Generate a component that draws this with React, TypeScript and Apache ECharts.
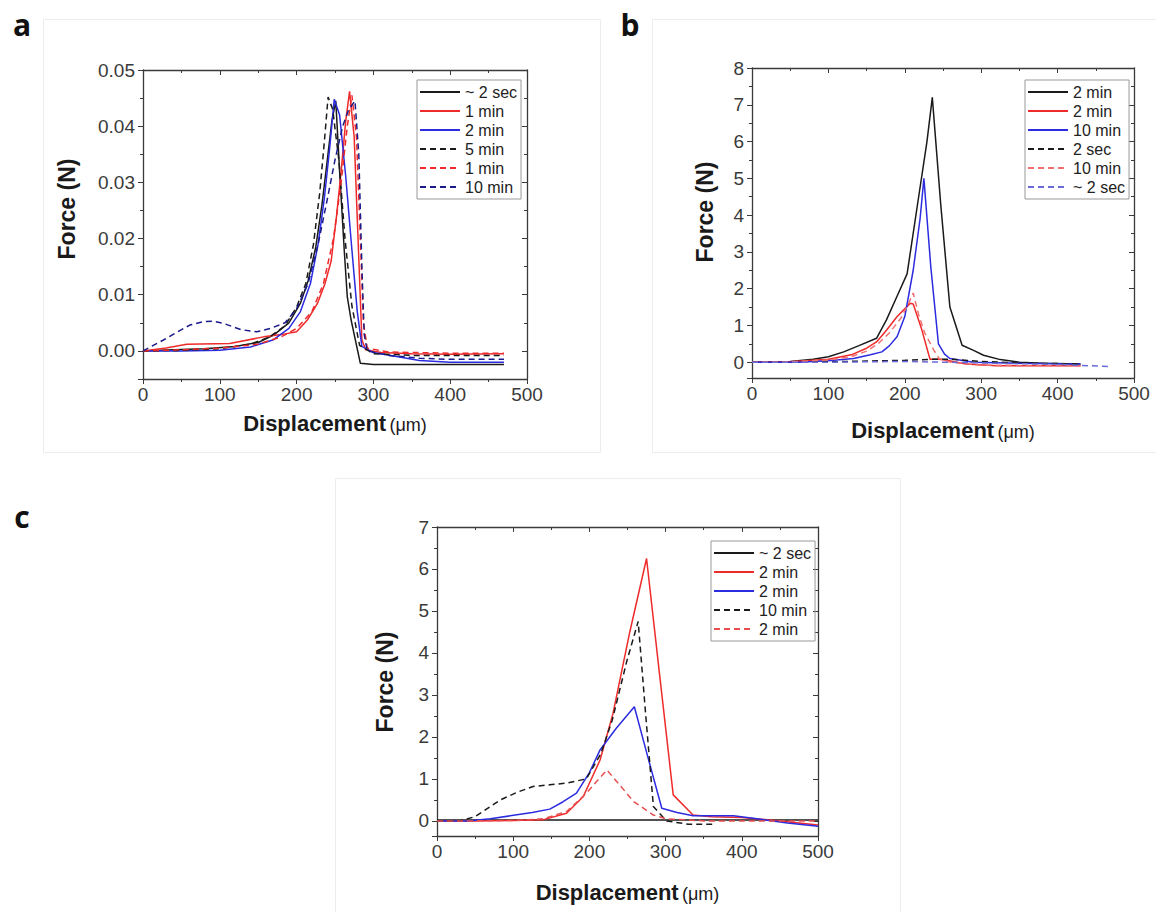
import React, { useEffect, useRef } from "react";
import * as echarts from "echarts";

type Pt = [number, number];

// ---------- Panel a (Force in N, displacement in µm) ----------
const a_2sec: Pt[] = [[0,0],[40,0.0002],[80,0.0004],[120,0.0008],[150,0.0015],[170,0.0028],[190,0.005],[205,0.0085],[215,0.0125],[225,0.0185],[233,0.026],[240,0.034],[246,0.041],[251,0.0445],[256,0.032],[262,0.018],[266,0.0096],[271,0.0055],[278,0.001],[283,-0.0022],[300,-0.0024],[400,-0.0024],[470,-0.0024]];
const a_1min: Pt[] = [[0,0],[30,0.0005],[57,0.0012],[113,0.0013],[157,0.0025],[180,0.0029],[200,0.0034],[214,0.0055],[227,0.0084],[237,0.012],[245,0.016],[252,0.024],[258,0.032],[264,0.041],[269,0.0462],[275,0.038],[280,0.02],[285,0.002],[290,0.0002],[310,-0.0003],[350,-0.0005],[400,-0.0006],[470,-0.0005]];
const a_2min: Pt[] = [[0,0],[50,0],[100,0.0001],[140,0.0007],[170,0.002],[190,0.004],[205,0.007],[218,0.012],[228,0.019],[236,0.027],[243,0.036],[249,0.0448],[256,0.042],[264,0.031],[272,0.018],[279,0.007],[285,0.0008],[300,-0.0003],[330,-0.001],[360,-0.0017],[400,-0.002],[470,-0.002]];
const a_5min: Pt[] = [[0,0],[50,0.0001],[100,0.0004],[140,0.0012],[165,0.0025],[185,0.0045],[200,0.0078],[212,0.012],[222,0.019],[230,0.028],[236,0.037],[241,0.0452],[247,0.043],[255,0.034],[263,0.02],[272,0.008],[282,0.001],[300,-0.0005],[350,-0.0008],[400,-0.0008],[470,-0.0008]];
const a_1minB: Pt[] = [[0,0],[50,0.0002],[100,0.0005],[150,0.0012],[180,0.0025],[200,0.004],[220,0.007],[235,0.012],[248,0.02],[258,0.03],[266,0.04],[272,0.0455],[278,0.038],[283,0.02],[287,0.005],[292,0.0005],[320,-0.0002],[400,-0.0004],[470,-0.0004]];
const a_10min: Pt[] = [[0,0],[26,0.0019],[45,0.0034],[61,0.0046],[78,0.0052],[90,0.0053],[105,0.0049],[127,0.0038],[148,0.0034],[166,0.004],[185,0.005],[200,0.0075],[215,0.012],[228,0.019],[240,0.027],[250,0.034],[260,0.04],[268,0.043],[276,0.0445],[281,0.035],[285,0.015],[288,0.003],[292,0],[320,-0.0008],[360,-0.0013],[400,-0.0015],[470,-0.0015]];

// ---------- Panel b ----------
const b_2minK: Pt[] = [[0,0],[50,0.02],[80,0.08],[100,0.15],[120,0.28],[140,0.45],[163,0.65],[176,1.15],[190,1.8],[203,2.4],[216,4.2],[229,6.0],[236,7.2],[247,4.3],[259,1.5],[275,0.46],[290,0.32],[303,0.19],[325,0.07],[350,0],[380,-0.03],[430,-0.05]];
const b_2minR: Pt[] = [[0,0],[50,0.01],[100,0.08],[130,0.2],[150,0.38],[163,0.55],[176,0.87],[190,1.24],[207,1.6],[211,1.58],[222,0.9],[233,0.08],[245,0.08],[255,0.05],[280,-0.05],[320,-0.1],[380,-0.1],[430,-0.1]];
const b_10min: Pt[] = [[0,0],[60,0],[100,0.04],[133,0.1],[155,0.2],[170,0.28],[180,0.45],[190,0.7],[200,1.24],[211,2.5],[220,3.9],[225,5.0],[234,2.6],[244,0.5],[252,0.22],[259,0.1],[290,0],[350,-0.03],[430,-0.05]];
const b_2sec: Pt[] = [[0,0],[100,0.01],[150,0.03],[200,0.05],[240,0.08],[260,0.08],[300,0.02],[350,-0.02],[430,-0.05]];
const b_10minR: Pt[] = [[0,0],[50,0.01],[100,0.06],[130,0.15],[150,0.3],[165,0.5],[180,0.8],[195,1.2],[205,1.6],[211,1.88],[218,1.3],[226,0.8],[238,0.33],[245,0.1],[260,0],[300,-0.08],[430,-0.1]];
const b_2secB: Pt[] = [[0,0],[100,0],[200,0.02],[300,-0.02],[400,-0.06],[470,-0.12]];

// ---------- Panel c ----------
const c_2sec: Pt[] = [[0,0.02],[100,0.02],[200,0.02],[300,0.02],[400,0.02],[500,0.02]];
const c_2minR: Pt[] = [[0,0],[50,0],[100,0.01],[140,0.03],[170,0.18],[192,0.58],[214,1.45],[231,2.56],[253,4.5],[275,6.25],[292,3.5],[310,0.62],[336,0.14],[360,0.1],[400,0.08],[450,0],[500,-0.1]];
const c_2minB: Pt[] = [[0,0],[40,0],[70,0.05],[96,0.12],[125,0.2],[148,0.28],[165,0.45],[183,0.66],[200,1.15],[214,1.69],[235,2.2],[259,2.72],[277,1.5],[295,0.3],[315,0.2],[336,0.12],[389,0.12],[420,0.05],[460,-0.05],[500,-0.13]];
const c_10min: Pt[] = [[0,0],[30,0],[50,0.1],[83,0.5],[105,0.68],[126,0.82],[148,0.86],[170,0.9],[196,1.0],[215,1.6],[230,2.4],[249,3.8],[264,4.75],[274,2.5],[284,0.34],[301,0],[330,-0.08],[363,-0.08]];
const c_2minRD: Pt[] = [[0,0],[50,0],[100,0.01],[140,0.05],[170,0.22],[196,0.66],[210,0.95],[223,1.21],[240,0.85],[258,0.46],[284,0.14],[300,0.05],[350,0],[400,0],[500,0]];

const legendA = ["~ 2 sec", "1 min", "2 min", "5 min", "1 min", "10 min"];
const legendB = ["2 min", "2 min", "10 min", "2 sec", "10 min", "~ 2 sec"];
const legendC = ["~ 2 sec", "2 min", "2 min", "10 min", "2 min"];

const BLACK = "#1a1a1a";
const RED = "#ee2a2a";
const BLUE = "#2b2be0";
const AX = "#3a3a3a";
const FONT = "'Liberation Sans', Arial, sans-serif";

export default function App() {
  const ref = useRef<HTMLDivElement>(null);
  useEffect(() => {
    if (!ref.current) return;
    const chart = echarts.init(ref.current, undefined, { renderer: "svg" });

    const labelMap: Record<string, string> = {};
    const mk = (id: string, label: string, data: Pt[], color: string, dashed: boolean, idx: number) => {
      labelMap[id] = label;
      return {
        name: id,
        type: "line",
        data,
        xAxisIndex: idx * 2,
        yAxisIndex: idx * 2,
        symbol: "none",
        showSymbol: false,
        silent: true,
        lineStyle: { color, width: 1.5, type: dashed ? [6, 4] : "solid" },
        itemStyle: { color },
      };
    };

    const series = [
      mk("a1", legendA[0], a_2sec, BLACK, false, 0),
      mk("a2", legendA[1], a_1min, RED, false, 0),
      mk("a3", legendA[2], a_2min, BLUE, false, 0),
      mk("a4", legendA[3], a_5min, BLACK, true, 0),
      mk("a5", legendA[4], a_1minB, RED, true, 0),
      mk("a6", legendA[5], a_10min, "#1a1a8a", true, 0),
      mk("b1", legendB[0], b_2minK, BLACK, false, 1),
      mk("b2", legendB[1], b_2minR, RED, false, 1),
      mk("b3", legendB[2], b_10min, BLUE, false, 1),
      mk("b4", legendB[3], b_2sec, BLACK, true, 1),
      mk("b5", legendB[4], b_10minR, "#f07070", true, 1),
      mk("b6", legendB[5], b_2secB, "#6a6ad8", true, 1),
      mk("c1", legendC[0], c_2sec, BLACK, false, 2),
      mk("c2", legendC[1], c_2minR, RED, false, 2),
      mk("c3", legendC[2], c_2minB, BLUE, false, 2),
      mk("c4", legendC[3], c_10min, BLACK, true, 2),
      mk("c5", legendC[4], c_2minRD, "#e85050", true, 2),
    ];

    const grids = [
      { left: 143, top: 70, width: 384, height: 309 },
      { left: 752, top: 68, width: 382, height: 310 },
      { left: 437, top: 527, width: 381, height: 309 },
    ];
    const nameGaps = [33, 41, 45];
    const yRanges = [
      { min: -0.005, max: 0.05, splitNumber: 5, fmt: (v: number) => v.toFixed(2) },
      { min: -0.43, max: 8, splitNumber: 8, fmt: (v: number) => String(Math.round(v)) },
      { min: -0.36, max: 7, splitNumber: 7, fmt: (v: number) => String(Math.round(v)) },
    ];

    const line = { show: true, onZero: false, lineStyle: { color: AX, width: 1.3 } };
    const xAxis: any[] = [];
    const yAxis: any[] = [];
    grids.forEach((g, i) => {
      xAxis.push({
        type: "value", gridIndex: i, position: "bottom", min: 0, max: 500, interval: 100,
        axisLine: line,
        axisTick: { show: true, inside: false, length: 5, lineStyle: { color: AX } },
        minorTick: { show: true, splitNumber: 2, length: 3, lineStyle: { color: AX } },
        splitLine: { show: false },
        axisLabel: { fontSize: 19, color: "#3a3a3a", fontFamily: FONT, margin: 6 },
        name: "{b|Displacement} {u|(\u03bcm)}",
        nameLocation: "middle",
        nameGap: nameGaps[i],
        nameTextStyle: {
          rich: {
            b: { fontSize: 22, fontWeight: "bold", fontFamily: FONT, color: "#1a1a1a" },
            u: { fontSize: 18, fontFamily: FONT, color: "#1a1a1a", padding: [3, 0, 0, 0] },
          },
        },
      });
      xAxis.push({
        type: "value", gridIndex: i, position: "top", min: 0, max: 500, interval: 100,
        axisLine: line,
        axisTick: { show: true, inside: true, length: 5, lineStyle: { color: AX } },
        minorTick: { show: true, splitNumber: 2, length: 3, lineStyle: { color: AX } },
        splitLine: { show: false },
        axisLabel: { show: false },
      });
      const r = yRanges[i];
      yAxis.push({
        type: "value", gridIndex: i, position: "left", min: r.min, max: r.max, splitNumber: r.splitNumber,
        axisLine: line,
        axisTick: { show: true, inside: false, length: 5, lineStyle: { color: AX } },
        minorTick: { show: true, splitNumber: 2, length: 3, lineStyle: { color: AX } },
        splitLine: { show: false },
        axisLabel: { fontSize: 19, color: "#3a3a3a", fontFamily: FONT, margin: 8, showMinLabel: false, formatter: r.fmt },
      });
      yAxis.push({
        type: "value", gridIndex: i, position: "right", min: r.min, max: r.max, splitNumber: r.splitNumber,
        axisLine: line,
        axisTick: { show: true, inside: true, length: 5, lineStyle: { color: AX } },
        minorTick: { show: true, splitNumber: 2, length: 3, lineStyle: { color: AX } },
        splitLine: { show: false },
        axisLabel: { show: false },
      });
    });

    const legendBase = {
      orient: "vertical",
      itemWidth: 40,
      itemHeight: 14,
      itemGap: 3,
      padding: [4, 4, 4, 2],
      borderColor: "#999",
      borderWidth: 1,
      selectedMode: false,
      itemStyle: { opacity: 0 },
      textStyle: { fontSize: 16, fontFamily: FONT, color: "#222", lineHeight: 16 },
      formatter: (n: string) => labelMap[n],
    };
    const legend = [
      { ...legendBase, left: 417, top: 80, data: ["a1", "a2", "a3", "a4", "a5", "a6"] },
      { ...legendBase, left: 1025, top: 80, data: ["b1", "b2", "b3", "b4", "b5", "b6"] },
      { ...legendBase, left: 711, top: 541, data: ["c1", "c2", "c3", "c4", "c5"] },
    ];

    const yTitle = (x: number, y: number) => ({
      type: "text", x, y, rotation: Math.PI / 2,
      style: { text: "Force (N)", font: `bold 23px ${FONT}`, fill: "#1a1a1a", align: "center", verticalAlign: "middle" },
    });
    const panelLabel = (t: string, x: number, y: number) => ({
      type: "text", x, y,
      style: { text: t, font: "bold 30px 'Open Sans', 'Liberation Sans', sans-serif", fill: "#111", align: "center", verticalAlign: "middle" },
    });
    const frame = (x: number, y: number, w: number, h: number) => ({
      type: "rect", shape: { x, y, width: w, height: h }, silent: true, z: -10,
      style: { fill: "none", stroke: "#ececec", lineWidth: 1 },
    });

    chart.setOption({
      animation: false,
      backgroundColor: "#fff",
      grid: grids,
      xAxis,
      yAxis,
      legend,
      series,
      graphic: [
        frame(43.5, 19.5, 557, 433),
        frame(652.5, 19.5, 504, 433),
        frame(335.5, 478.5, 565, 434),
        yTitle(67, 209),
        yTitle(705, 212),
        yTitle(385, 682),
        panelLabel("a", 22, 24),
        panelLabel("b", 630, 24),
        panelLabel("c", 22, 516),
      ],
    });
    return () => chart.dispose();
  }, []);
  return <div ref={ref} style={{ position: "absolute", left: 0, top: 0, width: 1156, height: 912 }} />;
}
